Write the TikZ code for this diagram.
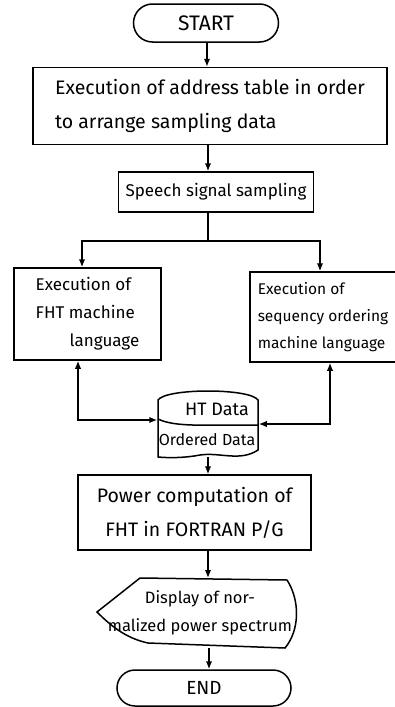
\documentclass[tikz,border=0pt]{standalone}
\usepackage{fontspec}
\setmainfont{Fira Sans}
\usetikzlibrary{arrows.meta,shapes.misc,calc}
\begin{document}
\begin{tikzpicture}[x=1pt,y=-1pt, line width=1.5pt,
  tip/.tip={Latex[length=8pt,width=6.5pt]},
  arr/.style={-tip},
  biarr/.style={tip-tip},
  term/.style={rounded rectangle, draw, inner sep=0pt},
  proc/.style={rectangle, draw, inner sep=0pt},
  bare/.style={inner sep=0pt},
  big/.style={font=\fontsize{19.5}{34}\selectfont},
  mid/.style={font=\fontsize{17}{28}\selectfont},
  small/.style={font=\fontsize{15.5}{27}\selectfont}]
\useasboundingbox (0,0) rectangle (394,707);

% nodes
\node[term, font=\fontsize{21}{24}\selectfont, minimum width=145pt, minimum height=38pt] (start) at (206,23) {START};
\node[proc, big, minimum width=354pt, minimum height=77pt, align=left] (b1) at (210,106)
  {Execution of address table in order\\to arrange sampling data};
\node[proc, font=\fontsize{17}{20}\selectfont, minimum width=195pt, minimum height=40pt] (b2) at (216,192) {Speech signal sampling};
\coordinate (j) at (208,241);
\node[proc, mid, minimum width=147pt, minimum height=92pt, align=left] (fht) at (87.5,314)
  {Execution of\\FHT machine\\\hspace*{2em}language};
\node[proc, minimum width=147pt, minimum height=90pt] (seq) at (323.5,317) {};
\node[bare, small, align=left, anchor=west] (seqt) at (257,317)
  {Execution of\\sequency ordering\\machine language};
\node[bare, minimum width=100pt, minimum height=67pt] (drum) at (208,423) {};
\node[bare, font=\fontsize{18}{20}\selectfont] (ht) at (217,409) {HT Data};
\node[bare, font=\fontsize{16}{20}\selectfont] (od) at (207,440) {Ordered Data};
\node[proc, big, minimum width=233pt, minimum height=75pt, align=center] (pw) at (194.5,512.5)
  {Power computation of\\FHT in FORTRAN P/G};
\node[bare, font=\fontsize{16.5}{28}\selectfont, minimum width=203pt, minimum height=70pt, align=center] (disp) at (200,613)
  {Display of nor-\\malized power spectrum};
\node[term, font=\fontsize{19}{22}\selectfont, minimum width=174pt, minimum height=36pt] (end) at (204,688) {END};

% drum outline
\draw (158,457) -- (158,400)
  .. controls (166,388) and (250,388) .. (258,400) -- (258,450)
  .. controls (240,462) and (220,452) .. (200,455)
  .. controls (185,458) and (168,458) .. (158,457) -- cycle;
\draw (158,419) .. controls (175,427) and (200,425) .. (258,425);

% display outline
\draw (97,612) -- (140,578) -- (287,580)
  .. controls (300,600) and (300,630) .. (285,648)
  -- (148,643) .. controls (125,638) and (110,625) .. (97,612) -- cycle;

% connectors
\draw[arr] (start.south -| 207,0) -- (207,0 |- b1.north);
\draw[arr] (b1.south -| 208,0) -- (208,0 |- b2.north);
\draw (b2.south -| j) -- (j);
\draw (j) -| (82,250);
\draw (j) -| (320,250);
\draw[arr] (j -| 82,0) -- (82,0 |- fht.north);
\draw[arr] (j -| 320,0) -- (320,0 |- seq.north);
\draw[biarr] (fht.south -| 78,0) |- (drum.west |- 0,420);
\draw[biarr] (seq.south -| 330,0) |- (drum.east |- 0,424);
\draw[arr] (208,457) -- (208,0 |- pw.north);
\draw[arr] (pw.south -| 208,0) -- (208,578);
\draw[arr] (209,648) -- (209,0 |- end.north);
\end{tikzpicture}
\end{document}
